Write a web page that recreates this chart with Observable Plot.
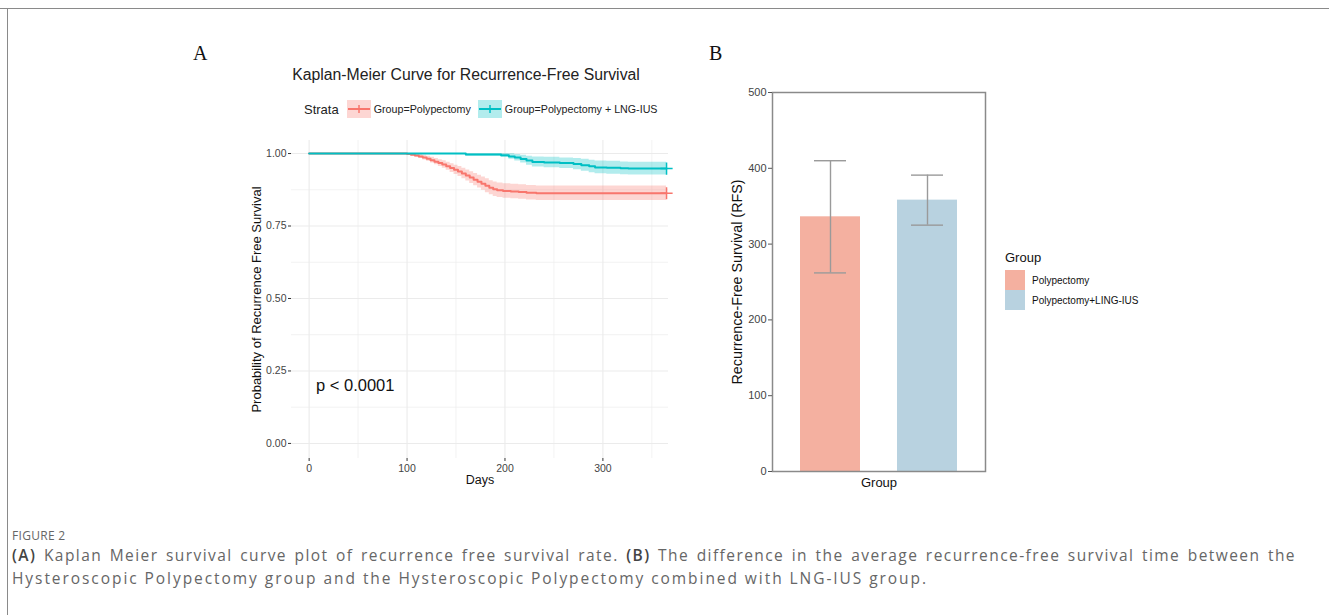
<!DOCTYPE html>
<html>
<head>
<meta charset="utf-8">
<script src="https://cdn.jsdelivr.net/npm/d3@7"></script>
<script src="https://cdn.jsdelivr.net/npm/@observablehq/plot@0.6"></script>
<style>
  html, body { margin: 0; padding: 0; background: #fff; }
  #root { position: relative; width: 1329px; height: 615px; overflow: hidden; font-family: "Liberation Sans", Arial, sans-serif; }
  .abs { position: absolute; white-space: nowrap; }
  .panelLetter { font-family: "Liberation Serif", "Times New Roman", serif; font-size: 20px; color: #111; }
  .cap { font-family: "Open Sans", "Noto Sans", sans-serif; color: #666; }
  svg { overflow: visible; }
</style>
</head>
<body>
<div id="root">
  <div class="abs" style="left:0;top:8px;width:1329px;height:0;border-top:1.5px solid #8a8a8a;"></div>
  <div class="abs" style="left:7px;top:8px;width:0;height:607px;border-left:1.5px solid #8a8a8a;"></div>
  <div class="abs panelLetter" style="left:193px;top:42px;">A</div>
  <div class="abs panelLetter" style="left:709px;top:42px;">B</div>
  <div class="abs" id="titleA" style="left:466px;top:66px;transform:translateX(-50%);font-size:15.8px;color:#222;"></div>
  <div class="abs" id="legendA" style="left:304px;top:99px;height:20px;display:flex;align-items:center;font-size:10.7px;color:#222;"></div>
  <div id="plotA" class="abs" style="left:240px;top:130px;"></div>
  <div id="plotB" class="abs" style="left:700px;top:80px;"></div>
  <div id="legendB" class="abs" style="left:1005px;top:250px;"></div>
  <div class="abs cap" style="left:12px;top:528px;font-size:12px;line-height:16px;letter-spacing:0.3px;">FIGURE 2</div>
  <div class="abs cap" id="cap1" style="left:12px;top:544px;font-size:15.5px;line-height:22px;"></div>
  <div class="abs cap" id="cap2" style="left:12px;top:567px;font-size:15.5px;line-height:22px;"></div>
</div>
<script>
// ---------- Panel A data (Kaplan-Meier) ----------
const kmTitle = "Kaplan-Meier Curve for Recurrence-Free Survival";
const strataLabels = ["Group=Polypectomy", "Group=Polypectomy + LNG-IUS"];
const strataColors = ["#F8766D", "#00BFC4"];

const polyTime  = [0, 100, 104, 108, 112, 116, 120, 124, 128, 132, 136, 140, 144, 148, 152, 156, 160, 164, 168, 172, 176, 180, 184, 188, 192, 198, 206, 214, 222, 232, 365];
const polySurv  = [1, 0.998, 0.996, 0.993, 0.990, 0.986, 0.982, 0.977, 0.972, 0.967, 0.962, 0.956, 0.950, 0.944, 0.938, 0.931, 0.924, 0.917, 0.910, 0.903, 0.896, 0.889, 0.882, 0.877, 0.873, 0.871, 0.869, 0.867, 0.865, 0.863, 0.863];
const polyLower = [1, 0.995, 0.991, 0.987, 0.983, 0.978, 0.973, 0.967, 0.961, 0.955, 0.949, 0.942, 0.935, 0.928, 0.921, 0.913, 0.905, 0.897, 0.889, 0.881, 0.873, 0.865, 0.858, 0.852, 0.848, 0.846, 0.844, 0.842, 0.840, 0.838, 0.838];
const polyUpper = [1, 1, 1, 0.999, 0.997, 0.994, 0.991, 0.987, 0.983, 0.979, 0.975, 0.970, 0.965, 0.960, 0.955, 0.949, 0.943, 0.937, 0.931, 0.925, 0.919, 0.913, 0.906, 0.902, 0.898, 0.896, 0.894, 0.892, 0.890, 0.888, 0.888];

const lngTime  = [0, 160, 196, 204, 210, 216, 222, 228, 240, 256, 270, 278, 286, 292, 304, 318, 326, 365];
const lngSurv  = [1, 0.997, 0.994, 0.990, 0.986, 0.981, 0.976, 0.971, 0.969, 0.967, 0.964, 0.960, 0.956, 0.952, 0.951, 0.949, 0.948, 0.948];
const lngLower = [1, 0.991, 0.986, 0.980, 0.974, 0.967, 0.960, 0.954, 0.951, 0.948, 0.944, 0.939, 0.934, 0.930, 0.929, 0.927, 0.926, 0.926];
const lngUpper = [1, 1, 1, 0.999, 0.997, 0.994, 0.991, 0.988, 0.987, 0.985, 0.983, 0.980, 0.977, 0.974, 0.973, 0.971, 0.970, 0.970];

const censorTime = [365, 365];
const censorSurv = [0.863, 0.948];

const xTicksA = [0, 100, 200, 300];
const xMinorA = [50, 150, 250, 350];
const yTicksA = [0, 0.25, 0.5, 0.75, 1];
const yMinorA = [0.125, 0.375, 0.625, 0.875];
const pValueText = "p < 0.0001";
const pValuePos = {time: 7, surv: 0.2};

// ---------- Panel B data (bar chart) ----------
const barGroups = ["Polypectomy", "Polypectomy+LING-IUS"];
const rfsMean  = [336, 358];
const rfsLower = [262, 325];
const rfsUpper = [410, 391];
const barColors = ["#F4B0A0", "#B8D2E0"];
const yTicksB = [0, 100, 200, 300, 400, 500];

const cap1 = '<b style="font-weight:600;color:#444">(A)</b> Kaplan Meier survival curve plot of recurrence free survival rate. <b style="font-weight:600;color:#444">(B)</b> The difference in the average recurrence-free survival time between the';
const cap2 = 'Hysteroscopic Polypectomy group and the Hysteroscopic Polypectomy combined with LNG-IUS group.';

// ---------- Build tables ----------
function table(group, t, s, lo, hi) {
  return t.map((d, i) => ({group, time: d, surv: s[i], lower: lo[i], upper: hi[i]}));
}
const km = [
  ...table(strataLabels[0], polyTime, polySurv, polyLower, polyUpper),
  ...table(strataLabels[1], lngTime, lngSurv, lngLower, lngUpper)
];
const censors = censorTime.map((t, i) => ({group: strataLabels[i], time: t, surv: censorSurv[i]}));

const font = '"Liberation Sans", Arial, sans-serif';

const plotA = Plot.plot({
  width: 440, height: 370,
  marginLeft: 51, marginRight: 12, marginTop: 10, marginBottom: 42,
  style: {fontFamily: font, fontSize: "10.5px", color: "#444", background: "transparent"},
  x: {domain: [-18, 367]},
  y: {domain: [-0.052, 1.045]},
  color: {domain: strataLabels, range: strataColors},
  marks: [
    Plot.ruleX(xMinorA, {stroke: "#ededed", strokeWidth: 0.7}),
    Plot.ruleY(yMinorA, {stroke: "#ededed", strokeWidth: 0.7}),
    Plot.ruleX(xTicksA, {stroke: "#ebebeb", strokeWidth: 1.1}),
    Plot.ruleY(yTicksA, {stroke: "#ebebeb", strokeWidth: 1.1}),
    Plot.axisX({ticks: xTicksA, tickSize: 3, tickPadding: 3, stroke: "#333", label: null}),
    Plot.axisY({ticks: yTicksA, tickFormat: d3.format(".2f"), tickSize: 3, tickPadding: 2, stroke: "#333", label: null}),
    Plot.areaY(km, {x: "time", y1: "lower", y2: "upper", fill: "group", z: "group", fillOpacity: 0.3, curve: "step-after"}),
    Plot.line(km, {x: "time", y: "surv", stroke: "group", z: "group", strokeWidth: 2, curve: "step-after"}),
    Plot.dot(censors, {x: "time", y: "surv", stroke: "group", symbol: "plus", r: 4, strokeWidth: 1.5}),
    Plot.text([pValueText], {x: () => pValuePos.time, y: () => pValuePos.surv, textAnchor: "start", fontSize: 16.5, fill: "#111"}),
    Plot.text(["Days"], {frameAnchor: "bottom", dy: 25, fontSize: 12.5, fill: "#111"}),
    Plot.text(["Probability of Recurrence Free Survival"], {frameAnchor: "left", textAnchor: "middle", dx: -35, rotate: -90, fontSize: 13, fill: "#111"})
  ]
});
document.getElementById("plotA").appendChild(plotA);

const bars = barGroups.map((g, i) => ({group: g, mean: rfsMean[i], lower: rfsLower[i], upper: rfsUpper[i]}));

const plotB = Plot.plot({
  width: 300, height: 420,
  marginLeft: 72, marginRight: 15, marginTop: 12, marginBottom: 29,
  style: {fontFamily: font, fontSize: "11px", color: "#444", background: "transparent"},
  x: {type: "band", domain: barGroups, range: [81, 276], paddingInner: 0.385, paddingOuter: 0.194, axis: null},
  y: {domain: [0, 500]},
  color: {domain: barGroups, range: barColors},
  marks: [
    Plot.barY(bars, {x: "group", y: "mean", fill: "group"}),
    Plot.ruleX(bars, {x: "group", y1: "lower", y2: "upper", stroke: "#9a9a9a", strokeWidth: 1.4}),
    Plot.tickY(bars, {x: "group", y: "lower", stroke: "#9a9a9a", strokeWidth: 1.4, insetLeft: 14, insetRight: 14}),
    Plot.tickY(bars, {x: "group", y: "upper", stroke: "#9a9a9a", strokeWidth: 1.4, insetLeft: 14, insetRight: 14}),
    Plot.frame({stroke: "#8a8a8a", strokeWidth: 1.5}),
    Plot.axisY({ticks: yTicksB, tickSize: 4, tickPadding: 2, stroke: "#555", label: null}),
    Plot.text(["Group"], {frameAnchor: "bottom", dy: 15, fontSize: 13, fill: "#111"}),
    Plot.text(["Recurrence-Free Survival (RFS)"], {frameAnchor: "left", textAnchor: "middle", dx: -35, rotate: -90, fontSize: 14.3, fill: "#111"})
  ]
});
document.getElementById("plotB").appendChild(plotB);

// ---------- Titles, legends, caption ----------
document.getElementById("titleA").textContent = kmTitle;

const legA = document.getElementById("legendA");
const strata = document.createElement("span");
strata.textContent = "Strata";
strata.style.cssText = "font-size:13px;margin-right:8px;";
legA.appendChild(strata);
strataLabels.forEach((lab, i) => {
  const c = strataColors[i];
  const key = document.createElementNS("http://www.w3.org/2000/svg", "svg");
  key.setAttribute("width", 24); key.setAttribute("height", 18);
  key.innerHTML = `<rect x="0" y="0" width="24" height="18" fill="${c}" fill-opacity="0.3"/>
    <line x1="1" x2="23" y1="9" y2="9" stroke="${c}" stroke-width="2"/>
    <line x1="12" x2="12" y1="5" y2="13" stroke="${c}" stroke-width="1.5"/>`;
  legA.appendChild(key);
  const t = document.createElement("span");
  t.textContent = lab;
  t.style.cssText = "margin-left:3px;margin-right:7px;";
  legA.appendChild(t);
});

const legB = document.getElementById("legendB");
legB.innerHTML = `<div style="font-size:13px;color:#111;margin-bottom:5px;">Group</div>` +
  barGroups.map((g, i) => `<div style="display:flex;align-items:center;height:20px;">
     <div style="width:20px;height:20px;background:${barColors[i]};"></div>
     <div style="margin-left:7px;font-size:10px;color:#111;">${g}</div></div>`).join("");

// caption: line 2 tracked to its reference width, line 1 justified to full width
const c1 = document.getElementById("cap1");
const c2 = document.getElementById("cap2");
c1.innerHTML = cap1;
c2.textContent = cap2;
const n2 = cap2.length;
const w2 = c2.getBoundingClientRect().width;
const ls2 = Math.max(0, (916 - w2) / n2);
c2.style.letterSpacing = ls2 + "px";
const n1 = c1.textContent.length;
const w1 = c1.getBoundingClientRect().width;
const ls1 = Math.max(0, Math.min(ls2, (1284 - w1) / n1 - 0.3));
c1.style.letterSpacing = ls1 + "px";
const w1b = c1.getBoundingClientRect().width;
const words = (c1.textContent.match(/ /g) || []).length;
c1.style.wordSpacing = Math.max(0, (1284 - w1b) / words) + "px";
</script>
</body>
</html>
